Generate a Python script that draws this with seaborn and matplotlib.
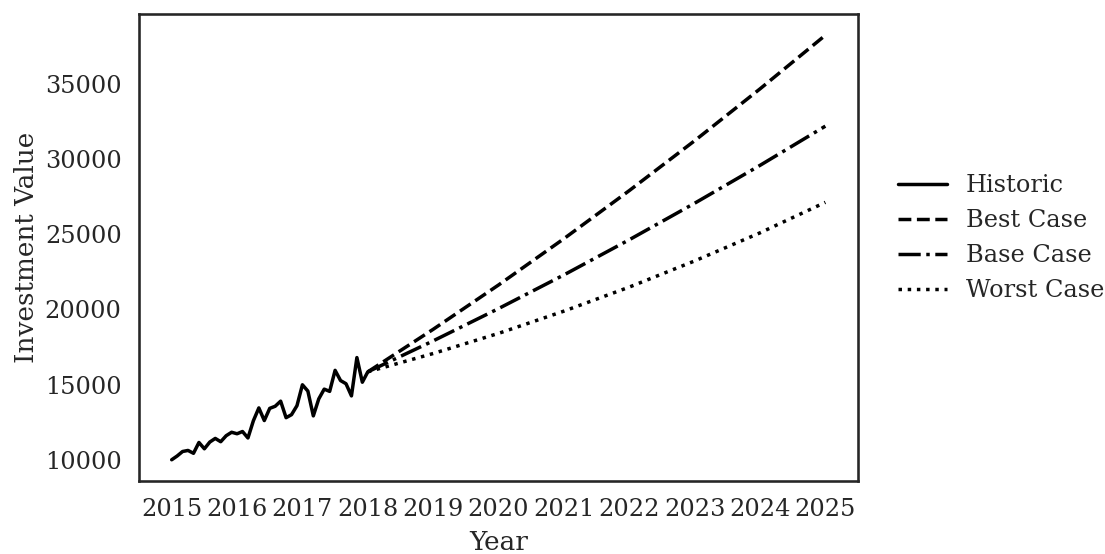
import numpy as np
import pandas as pd
import matplotlib
matplotlib.use("Agg")
import matplotlib.pyplot as plt
import seaborn as sns

# monthly history, Jan 2015 .. Jan 2018
hist_values = [10000, 10250, 10550, 10620, 10430, 11150, 10730, 11180, 11420, 11200,
               11600, 11830, 11730, 11880, 11450, 12600, 13450, 12610, 13420, 13560,
               13900, 12800, 13000, 13600, 14990, 14570, 12920, 14050, 14700, 14550,
               15950, 15270, 15060, 14250, 16800, 15160, 15850]
hist_years = [2015 + i / 12 for i in range(len(hist_values))]

# yearly projections 2018 .. 2025
proj_years = [2018, 2019, 2020, 2021, 2022, 2023, 2024, 2025]
best_case = [15850, 18680, 21630, 24710, 27910, 31230, 34680, 38250]
base_case = [15850, 17910, 20060, 22300, 24640, 27070, 29590, 32200]
worst_case = [15850, 17070, 18410, 19890, 21490, 23230, 25100, 27130]

year_ticks = list(range(2015, 2026))

sns.set_theme(style="white", context="talk", font="serif", font_scale=1.05,
              rc={"lines.linewidth": 2.5})

fig, ax = plt.subplots(figsize=(11.05, 5.54), dpi=100)
fig.subplots_adjust(left=0.1258, right=0.7765, top=0.9747, bottom=0.1318)

sns.lineplot(x=hist_years, y=hist_values, color="black", linestyle="-", label="Historic", ax=ax)
sns.lineplot(x=proj_years, y=best_case, color="black", linestyle="--", label="Best Case", ax=ax)
sns.lineplot(x=proj_years, y=base_case, color="black", linestyle="-.", label="Base Case", ax=ax)
sns.lineplot(x=proj_years, y=worst_case, color="black", linestyle=":", label="Worst Case", ax=ax)

ax.set_xticks(year_ticks)
ax.set_xticklabels([str(y) for y in year_ticks])
ax.set_xlabel("Year", labelpad=6)
ax.set_ylabel("Investment Value")
ax.legend(loc="center left", bbox_to_anchor=(1.026, 0.52), frameon=False)

plt.savefig("out.png", dpi=100)
plt.close()
